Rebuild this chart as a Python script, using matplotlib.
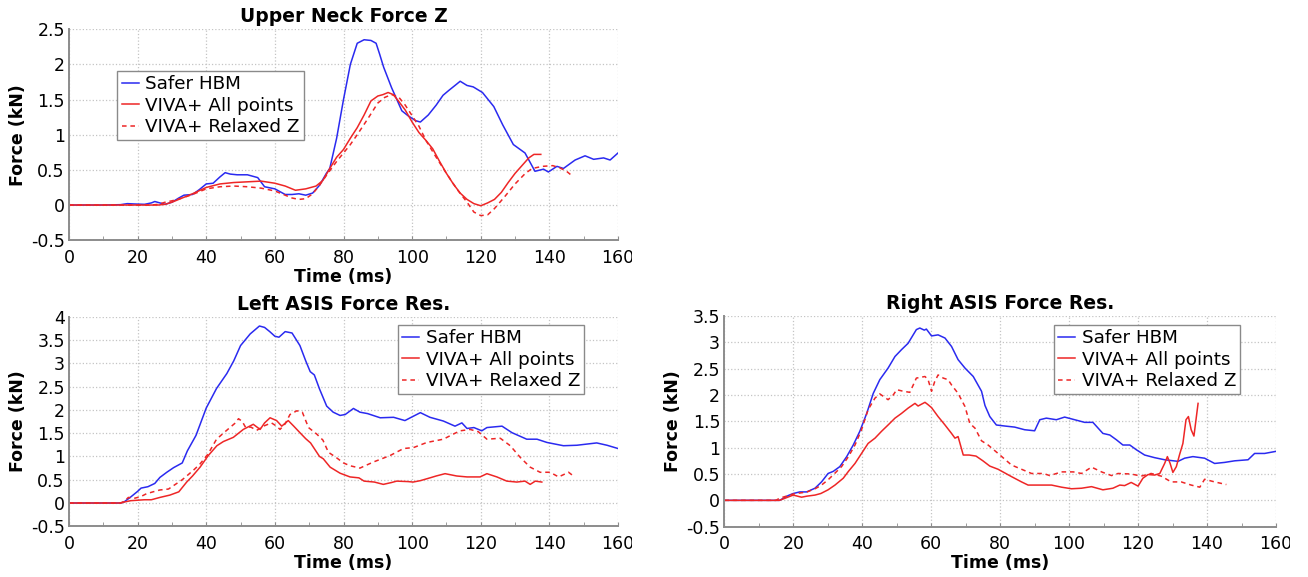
import matplotlib
matplotlib.use("Agg")
import matplotlib.pyplot as plt
from matplotlib.patches import Rectangle
from matplotlib.ticker import MultipleLocator

plt.rcParams['font.family'] = ['DejaVu Sans']

# ---------------- DATA ----------------
series_labels = ["Safer HBM", "VIVA+ All points", "VIVA+ Relaxed Z"]
panel_titles = ["Upper Neck Force Z", "Left ASIS Force Res.", "Right ASIS Force Res."]
x_label = "Time (ms)"
y_label = "Force (kN)"
x_ticks = [0, 20, 40, 60, 80, 100, 120, 140, 160]

# Upper Neck Force Z
neck_hbm_t = [0, 10, 15, 17, 19, 22, 24, 25, 26.5, 28, 30, 32, 33.5, 36, 38, 40, 42, 44, 45.5, 47, 49,
              52, 55, 57, 60, 63, 65, 67, 69, 71, 73, 75, 76, 78, 80, 82, 84, 86, 88, 89.5, 90.5, 91.7,
              94, 97, 98.8, 101, 102.4, 104.7, 107, 109, 110.7, 113, 114, 116, 117.8, 120.5, 123.8,
              126.4, 129.5, 132.9, 135.8, 138.3, 139.7, 142.2, 144.1, 147.5, 150.4, 152.9, 155.8,
              157.7, 160]
neck_hbm_v = [0, 0, 0.005, 0.02, 0.015, 0.01, 0.03, 0.05, 0.03, 0.01, 0.04, 0.10, 0.14, 0.15, 0.22,
              0.30, 0.31, 0.40, 0.46, 0.44, 0.43, 0.43, 0.39, 0.26, 0.23, 0.15, 0.15, 0.16, 0.14, 0.17,
              0.28, 0.45, 0.52, 0.95, 1.50, 2.00, 2.30, 2.35, 2.34, 2.30, 2.15, 1.96, 1.67, 1.34, 1.27,
              1.20, 1.18, 1.28, 1.42, 1.56, 1.63, 1.72, 1.76, 1.70, 1.68, 1.60, 1.40, 1.14, 0.86, 0.74,
              0.48, 0.51, 0.47, 0.55, 0.52, 0.64, 0.70, 0.65, 0.67, 0.64, 0.74]
neck_all_t = [0, 20, 26, 28, 30, 33, 36, 40, 44, 48, 52, 56, 60, 63, 66, 69, 72, 74, 76, 78, 80, 82,
              84, 86, 88, 90, 91.5, 93, 94.5, 96, 98, 100, 102, 104, 106, 108, 110, 112, 114, 116,
              118, 120, 122, 124, 126, 128, 130, 132, 134, 135.5, 137.5]
neck_all_v = [0, 0, 0.0, 0.01, 0.04, 0.10, 0.16, 0.25, 0.30, 0.32, 0.33, 0.34, 0.31, 0.27, 0.21, 0.23,
              0.27, 0.35, 0.52, 0.68, 0.79, 0.95, 1.10, 1.28, 1.48, 1.55, 1.57, 1.60, 1.57, 1.48, 1.35,
              1.18, 1.03, 0.92, 0.80, 0.62, 0.45, 0.30, 0.17, 0.08, 0.02, -0.01, 0.03, 0.08, 0.18,
              0.32, 0.45, 0.56, 0.67, 0.72, 0.72]
neck_rel_t = [0, 24, 26, 28, 30, 33, 36, 40, 44, 48, 52, 56, 60, 63, 65, 67, 69, 71, 73, 75, 78, 80,
              82, 84, 87, 90, 92, 94, 96, 98, 100, 102, 104, 107, 110, 113, 116, 118, 120, 122, 124,
              127, 130, 133, 135, 138, 141, 143, 145, 146.5]
neck_rel_v = [0, 0, 0.01, 0.04, 0.06, 0.10, 0.15, 0.23, 0.26, 0.27, 0.26, 0.24, 0.20, 0.14, 0.10, 0.08,
              0.09, 0.16, 0.28, 0.42, 0.62, 0.74, 0.86, 1.00, 1.22, 1.45, 1.53, 1.57, 1.54, 1.42, 1.27,
              1.12, 0.92, 0.68, 0.45, 0.23, 0.04, -0.10, -0.15, -0.14, -0.05, 0.12, 0.30, 0.45, 0.52,
              0.55, 0.56, 0.53, 0.48, 0.42]

# Left ASIS Force Res.
lasis_hbm_t = [0, 15, 16, 18, 20, 21, 23, 25, 26.5, 28.5, 30.5, 33, 34.5, 37, 40, 43, 46, 48, 50,
               52.8, 55.5, 57, 58.5, 60, 61.2, 63, 65, 67.3, 69, 70.3, 71.5, 73, 75.1, 77, 79, 80.5,
               82.9, 84.8, 87, 90.7, 94.6, 97.9, 100, 102.4, 105.2, 109.1, 112.5, 114.5, 116, 118,
               120.3, 121.8, 126.2, 129.1, 133.4, 136.4, 139.3, 144.1, 148, 153.8, 156.8, 160]
lasis_hbm_v = [0, 0, 0.02, 0.13, 0.25, 0.32, 0.35, 0.42, 0.55, 0.66, 0.76, 0.86, 1.12, 1.45, 2.04,
               2.46, 2.78, 3.05, 3.38, 3.63, 3.80, 3.77, 3.68, 3.58, 3.56, 3.68, 3.65, 3.38, 3.05,
               2.82, 2.75, 2.45, 2.08, 1.95, 1.88, 1.90, 2.03, 1.95, 1.92, 1.83, 1.84, 1.77, 1.85,
               1.94, 1.84, 1.76, 1.65, 1.72, 1.60, 1.62, 1.55, 1.62, 1.65, 1.51, 1.37, 1.37, 1.30,
               1.23, 1.24, 1.29, 1.24, 1.17]
lasis_all_t = [0, 15, 16, 18, 20, 22, 24, 26.5, 29.4, 32, 34.3, 36, 38.2, 40.6, 43.1, 45, 47.9, 50.8,
               53.7, 55.7, 57, 58.6, 60.5, 62, 63.9, 65.5, 67.3, 69, 70.4, 73, 74.1, 76.1, 79, 81.9,
               84.5, 86, 89, 91.6, 94, 95.5, 98.8, 100.3, 102.4, 105.2, 107, 109.6, 113, 116, 119.8,
               121.8, 124.7, 127.6, 130.5, 132.9, 134.4, 135.9, 137.8]
lasis_all_v = [0, 0, 0.02, 0.05, 0.06, 0.07, 0.07, 0.12, 0.17, 0.24, 0.45, 0.58, 0.77, 1.02, 1.23,
               1.32, 1.41, 1.58, 1.69, 1.58, 1.72, 1.83, 1.77, 1.65, 1.77, 1.65, 1.51, 1.38, 1.29,
               1.00, 0.95, 0.77, 0.64, 0.56, 0.54, 0.47, 0.45, 0.40, 0.44, 0.47, 0.46, 0.45, 0.48,
               0.54, 0.58, 0.63, 0.58, 0.56, 0.56, 0.63, 0.56, 0.47, 0.45, 0.47, 0.40, 0.47, 0.45]
lasis_rel_t = [0, 15, 16, 17.3, 19, 21, 22.6, 24.5, 26.5, 29, 31.4, 33, 34.3, 36.5, 38.2, 40.5, 43,
               45, 46.9, 48.5, 49.4, 50.5, 51.5, 53, 54.7, 57, 59, 60.5, 61.5, 63, 64.4, 66.4, 68,
               69.8, 72.2, 74, 75.6, 78, 80, 81.9, 84.8, 88.7, 93.6, 97.5, 100.4, 104.3, 109.1, 112,
               114, 116.9, 119.3, 121.8, 125.7, 128.6, 131.5, 134.4, 137.3, 140.2, 142.7, 145.6, 147]
lasis_rel_v = [0, 0, 0.03, 0.12, 0.10, 0.14, 0.20, 0.24, 0.28, 0.30, 0.42, 0.50, 0.58, 0.72, 0.84,
               1.05, 1.37, 1.50, 1.62, 1.72, 1.81, 1.75, 1.62, 1.63, 1.56, 1.66, 1.72, 1.65, 1.58,
               1.70, 1.90, 1.98, 1.95, 1.62, 1.48, 1.35, 1.09, 0.97, 0.86, 0.80, 0.75, 0.88, 1.02,
               1.17, 1.19, 1.30, 1.37, 1.48, 1.55, 1.58, 1.53, 1.37, 1.39, 1.23, 0.98, 0.77, 0.66,
               0.66, 0.56, 0.66, 0.58]

# Right ASIS Force Res.
rasis_hbm_t = [0, 16, 16.6, 18.5, 20, 21.9, 23.9, 26.3, 28.2, 30.1, 31.6, 33.5, 35.5, 37.4, 39.3,
               41.3, 43.2, 45.1, 47.5, 49.5, 51.4, 53.3, 55.7, 56.7, 58, 58.6, 60.1, 62, 64, 65.9,
               67.8, 69.8, 72.2, 74.6, 75.6, 77, 78.9, 81.4, 84.2, 87.1, 90, 91.5, 93.4, 96.3, 98.7,
               101.6, 104.5, 106.9, 109.8, 111.8, 113.7, 115.6, 117.6, 119.5, 121.9, 124.8, 127.7,
               131.6, 133.5, 135.9, 139.3, 142.2, 145.1, 148, 151.9, 153.8, 156.7, 160]
rasis_hbm_v = [0, 0, 0.02, 0.09, 0.13, 0.16, 0.16, 0.23, 0.35, 0.51, 0.55, 0.64, 0.83, 1.05, 1.31,
               1.65, 2.03, 2.29, 2.51, 2.73, 2.86, 2.98, 3.24, 3.27, 3.23, 3.25, 3.12, 3.14, 3.08,
               2.92, 2.67, 2.51, 2.35, 2.07, 1.80, 1.59, 1.43, 1.41, 1.39, 1.34, 1.32, 1.53, 1.56,
               1.53, 1.58, 1.53, 1.48, 1.48, 1.27, 1.24, 1.15, 1.05, 1.05, 0.96, 0.86, 0.81, 0.77,
               0.74, 0.80, 0.83, 0.80, 0.70, 0.72, 0.75, 0.77, 0.89, 0.89, 0.93]
rasis_all_t = [0, 16, 18, 20, 22.4, 24, 26.3, 28, 30.1, 32.1, 34.5, 36, 37.9, 39.8, 41.7, 43.7, 45.6,
               47.5, 49.5, 51.4, 53.3, 55.3, 56.2, 58.2, 59, 60.1, 62, 64, 65.9, 66.9, 67.8, 69.3, 71,
               73, 75, 77, 79.4, 83.3, 86.2, 88.1, 92, 94.9, 97.8, 100.7, 103.6, 106.5, 109.8, 112.7,
               114.7, 116.1, 118, 120, 121.4, 122.9, 124.8, 126.3, 127.7, 128.5, 129.3, 130.1,
               131.1, 132, 133, 133.9, 134.6, 135.4, 136.2, 136.8, 137.4]
rasis_all_v = [0, 0, 0.05, 0.10, 0.06, 0.08, 0.10, 0.13, 0.20, 0.29, 0.42, 0.55, 0.70, 0.89, 1.08,
               1.18, 1.31, 1.43, 1.56, 1.65, 1.75, 1.84, 1.79, 1.86, 1.82, 1.76, 1.59, 1.43, 1.27,
               1.18, 1.21, 0.86, 0.86, 0.84, 0.75, 0.65, 0.59, 0.45, 0.35, 0.29, 0.29, 0.29, 0.25,
               0.22, 0.23, 0.26, 0.20, 0.23, 0.29, 0.28, 0.34, 0.27, 0.42, 0.49, 0.48, 0.51, 0.70,
               0.83, 0.70, 0.53, 0.64, 0.86, 1.08, 1.53, 1.59, 1.34, 1.22, 1.53, 1.84]
rasis_rel_t = [0, 15, 16, 18, 20, 22, 24, 26.3, 28, 30.1, 32, 34, 36, 37.9, 39.8, 41.7, 43.7, 45.1,
               47.5, 49, 50, 51.9, 53.8, 54.8, 55.7, 58.2, 59.1, 60.1, 61, 62, 63.5, 64.9, 65.9, 67.8,
               69.8, 71.2, 72.7, 74.6, 76.5, 79.4, 83.3, 86.2, 89.1, 92.5, 94.4, 97.8, 101.2, 103.6,
               106.5, 109.4, 112.3, 114.2, 118, 120.9, 123.8, 126.7, 129.6, 132.5, 135.4, 137.9,
               139.3, 142.2, 145.6]
rasis_rel_v = [0, 0, 0.04, 0.08, 0.12, 0.14, 0.16, 0.22, 0.28, 0.39, 0.51, 0.64, 0.83, 1.05, 1.34,
               1.72, 1.94, 2.02, 1.91, 2.00, 2.10, 2.07, 2.05, 2.19, 2.32, 2.35, 2.29, 2.07, 2.25,
               2.38, 2.32, 2.29, 2.19, 2.03, 1.78, 1.46, 1.37, 1.13, 1.05, 0.89, 0.67, 0.59, 0.51,
               0.51, 0.47, 0.54, 0.54, 0.51, 0.63, 0.54, 0.47, 0.51, 0.50, 0.46, 0.51, 0.46, 0.35,
               0.35, 0.29, 0.25, 0.40, 0.35, 0.30]

neck_y_ticks = [-0.5, 0, 0.5, 1, 1.5, 2, 2.5]
lasis_y_ticks = [-0.5, 0, 0.5, 1, 1.5, 2, 2.5, 3, 3.5, 4]
rasis_y_ticks = [-0.5, 0, 0.5, 1, 1.5, 2, 2.5, 3, 3.5]

# ---------------- STYLE ----------------
W, H = 1308, 577
DPI = 100
BLUE = '#2a2af0'
RED = '#ee2626'
GRID = '#c4c4c4'
SPINE = '#8c8c8c'

fig = plt.figure(figsize=(W / DPI, H / DPI), dpi=DPI)


def px_axes(x0, x1, y_top, y_bot):
    return fig.add_axes([x0 / W, (H - y_bot) / H, (x1 - x0) / W, (y_bot - y_top) / H])


def white_mask(x0, x1, y_top, y_bot):
    fig.add_artist(Rectangle((x0 / W, (H - y_bot) / H), (x1 - x0) / W, (y_bot - y_top) / H,
                             transform=fig.transFigure, facecolor='white', edgecolor='none',
                             zorder=20))


panels = [
    dict(box=(69, 618, 29.2, 240.2), title=panel_titles[0], yticks=neck_y_ticks,
         data=[(neck_hbm_t, neck_hbm_v), (neck_all_t, neck_all_v), (neck_rel_t, neck_rel_v)],
         leg=(117.5, 71)),
    dict(box=(69, 618, 316.7, 526.3), title=panel_titles[1], yticks=lasis_y_ticks,
         data=[(lasis_hbm_t, lasis_hbm_v), (lasis_all_t, lasis_all_v), (lasis_rel_t, lasis_rel_v)],
         leg=(398, 325)),
    dict(box=(724.3, 1276, 315.9, 526.7), title=panel_titles[2], yticks=rasis_y_ticks,
         data=[(rasis_hbm_t, rasis_hbm_v), (rasis_all_t, rasis_all_v), (rasis_rel_t, rasis_rel_v)],
         leg=(1054, 325)),
]

styles = [dict(color=BLUE, lw=1.1, ls='-'),
          dict(color=RED, lw=1.1, ls='-'),
          dict(color=RED, lw=1.1, ls=(0, (3, 2.5)))]

for p in panels:
    x0, x1, yt, yb = p['box']
    ax = px_axes(x0, x1, yt, yb)
    for (t, v), st, lab in zip(p['data'], styles, series_labels):
        ax.plot(t, v, color=st['color'], lw=st['lw'], linestyle=st['ls'], label=lab)
    yt_ = p['yticks']
    ax.set_xlim(0, 160)
    ax.set_ylim(yt_[0], yt_[-1])
    ax.set_xticks(x_ticks)
    ax.set_xticklabels([str(v) for v in x_ticks])
    ax.set_yticks(yt_)
    ax.set_yticklabels([('%g' % v) for v in yt_])
    ax.xaxis.set_minor_locator(MultipleLocator(10))
    ax.grid(True, which='major', color=GRID, linestyle=':', linewidth=0.9)
    for s in ['top', 'right']:
        ax.spines[s].set_visible(False)
    for s in ['left', 'bottom']:
        ax.spines[s].set_color(SPINE)
        ax.spines[s].set_linewidth(1.4)
    ax.tick_params(axis='x', which='both', direction='in', length=3, color=SPINE,
                   labelsize=12.5, pad=6)
    ax.tick_params(axis='y', which='both', length=0, labelsize=12.5, pad=3)
    ax.set_title(p['title'], fontsize=13.5, fontweight='bold', pad=5)
    ax.set_xlabel(x_label, fontsize=12.5, fontweight='bold', labelpad=1)
    ax.set_ylabel(y_label, fontsize=12.5, fontweight='bold', labelpad=3)

    lx, ly = p['leg']
    leg = ax.legend(loc='upper left', bbox_to_anchor=(lx / W, 1 - ly / H),
                    bbox_transform=fig.transFigure, borderaxespad=0, fontsize=13.2,
                    frameon=True, fancybox=False, framealpha=1, edgecolor='#8a8a8a',
                    handlelength=0.95, handletextpad=0.35, labelspacing=0.2, borderpad=0.22)
    leg.get_frame().set_linewidth(1.0)

    # the reference cuts the last x tick label just past the axis end
    white_mask(x1 + 13.5, x1 + 36, yb + 4, yb + 28)

fig.savefig('out.png', dpi=DPI)
